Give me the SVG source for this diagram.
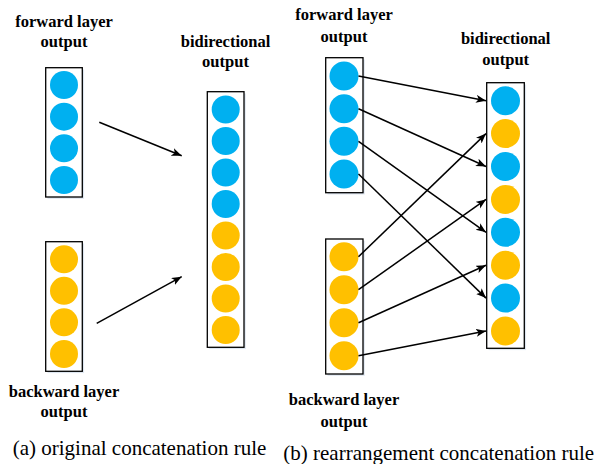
<svg xmlns="http://www.w3.org/2000/svg" width="599" height="464" viewBox="0 0 599 464">
<style>
.box{fill:#fff;stroke:#000;stroke-width:1.3}
.sh{fill:#dfe7f1;stroke:none}
.f{fill:#00B0F0}
.b{fill:#FFC000}
.lbl{font-family:"Liberation Serif","Times New Roman",serif;font-weight:bold;font-size:16.5px;text-anchor:middle;fill:#000}
.cap{font-family:"Liberation Serif","Times New Roman",serif;font-size:21px;fill:#000}
.con{stroke:#000;stroke-width:1.5;fill:none;marker-end:url(#ah)}
</style>
<defs>
<marker id="ah" markerUnits="userSpaceOnUse" markerWidth="11" markerHeight="9" refX="10" refY="4" orient="auto">
<path d="M0,0 L10,4 L0,8 L2.5,4 z" fill="#000"/>
</marker>
</defs>
<rect width="599" height="464" fill="#fff"/>

<g id="a-forward">
<text class="lbl" x="64" y="27">forward layer</text>
<text class="lbl" x="64" y="47">output</text>
<rect class="sh" x="47.5" y="69.5" width="36.6" height="129.3"/>
<rect class="box" x="45.7" y="67.7" width="36.6" height="129.3"/>
<circle class="f" cx="64" cy="85" r="14"/>
<circle class="f" cx="64" cy="116.7" r="14"/>
<circle class="f" cx="64" cy="148.3" r="14"/>
<circle class="f" cx="64" cy="180" r="14"/>
</g>

<g id="a-backward">
<rect class="sh" x="47.5" y="243.5" width="36.6" height="129.6"/>
<rect class="box" x="45.7" y="241.7" width="36.6" height="129.6"/>
<circle class="b" cx="64" cy="259.3" r="14"/>
<circle class="b" cx="64" cy="290.8" r="14"/>
<circle class="b" cx="64" cy="322.3" r="14"/>
<circle class="b" cx="64" cy="354" r="14"/>
<text class="lbl" x="64" y="397">backward layer</text>
<text class="lbl" x="64" y="417">output</text>
</g>

<g id="a-bidirectional">
<text class="lbl" x="225.5" y="47">bidirectional</text>
<text class="lbl" x="225.5" y="67">output</text>
<rect class="sh" x="209.1" y="93.5" width="36.7" height="255.6"/>
<rect class="box" x="207.3" y="91.7" width="36.7" height="255.6"/>
<circle class="f" cx="225.7" cy="109.5" r="14"/>
<circle class="f" cx="225.7" cy="141" r="14"/>
<circle class="f" cx="225.7" cy="172.5" r="14"/>
<circle class="f" cx="225.7" cy="204" r="14"/>
<circle class="b" cx="225.7" cy="235.5" r="14"/>
<circle class="b" cx="225.7" cy="267" r="14"/>
<circle class="b" cx="225.7" cy="298.5" r="14"/>
<circle class="b" cx="225.7" cy="330" r="14"/>
</g>

<g id="b-forward">
<text class="lbl" x="344" y="20">forward layer</text>
<text class="lbl" x="344" y="41.5">output</text>
<rect class="sh" x="327.5" y="59.5" width="37.3" height="135"/>
<rect class="box" x="325.7" y="57.7" width="37.3" height="135"/>
<circle class="f" cx="344" cy="76" r="14.5"/>
<circle class="f" cx="344" cy="108.7" r="14.5"/>
<circle class="f" cx="344" cy="141.3" r="14.5"/>
<circle class="f" cx="344" cy="174" r="14.5"/>
</g>

<g id="b-backward">
<rect class="sh" x="327.5" y="240.8" width="37.3" height="135"/>
<rect class="box" x="325.7" y="239" width="37.3" height="135"/>
<circle class="b" cx="344" cy="256.7" r="14.5"/>
<circle class="b" cx="344" cy="289.7" r="14.5"/>
<circle class="b" cx="344" cy="322.7" r="14.5"/>
<circle class="b" cx="344" cy="355.7" r="14.5"/>
<text class="lbl" x="344" y="405">backward layer</text>
<text class="lbl" x="344" y="427">output</text>
</g>

<g id="b-bidirectional">
<text class="lbl" x="505.7" y="43.5">bidirectional</text>
<text class="lbl" x="505.7" y="64.5">output</text>
<rect class="sh" x="488.5" y="84.5" width="37.6" height="265.6"/>
<rect class="box" x="486.7" y="82.7" width="37.6" height="265.6"/>
<circle class="f" cx="505.5" cy="100.7" r="14.5"/>
<circle class="b" cx="505.5" cy="133.6" r="14.5"/>
<circle class="f" cx="505.5" cy="166.5" r="14.5"/>
<circle class="b" cx="505.5" cy="199.4" r="14.5"/>
<circle class="f" cx="505.5" cy="232.3" r="14.5"/>
<circle class="b" cx="505.5" cy="265.2" r="14.5"/>
<circle class="f" cx="505.5" cy="298.1" r="14.5"/>
<circle class="b" cx="505.5" cy="331" r="14.5"/>
</g>

<g id="connectors">
<line class="con" x1="99.3" y1="122.3" x2="181.7" y2="155.7"/>
<line class="con" x1="96.7" y1="323.3" x2="181.7" y2="276.7"/>
<line class="con" x1="358.5" y1="76" x2="486" y2="100.7"/>
<line class="con" x1="358.5" y1="108.7" x2="486" y2="166.5"/>
<line class="con" x1="358.5" y1="141.3" x2="486" y2="232.3"/>
<line class="con" x1="358.5" y1="174" x2="486" y2="298.1"/>
<line class="con" x1="358.5" y1="256.7" x2="486" y2="133.6"/>
<line class="con" x1="358.5" y1="289.7" x2="486" y2="199.4"/>
<line class="con" x1="358.5" y1="322.7" x2="486" y2="265.2"/>
<line class="con" x1="358.5" y1="355.7" x2="486" y2="331"/>
</g>

<text class="cap" x="12.7" y="455">(a) original concatenation rule</text>
<text class="cap" x="283.3" y="460">(b) rearrangement concatenation rule</text>
</svg>
